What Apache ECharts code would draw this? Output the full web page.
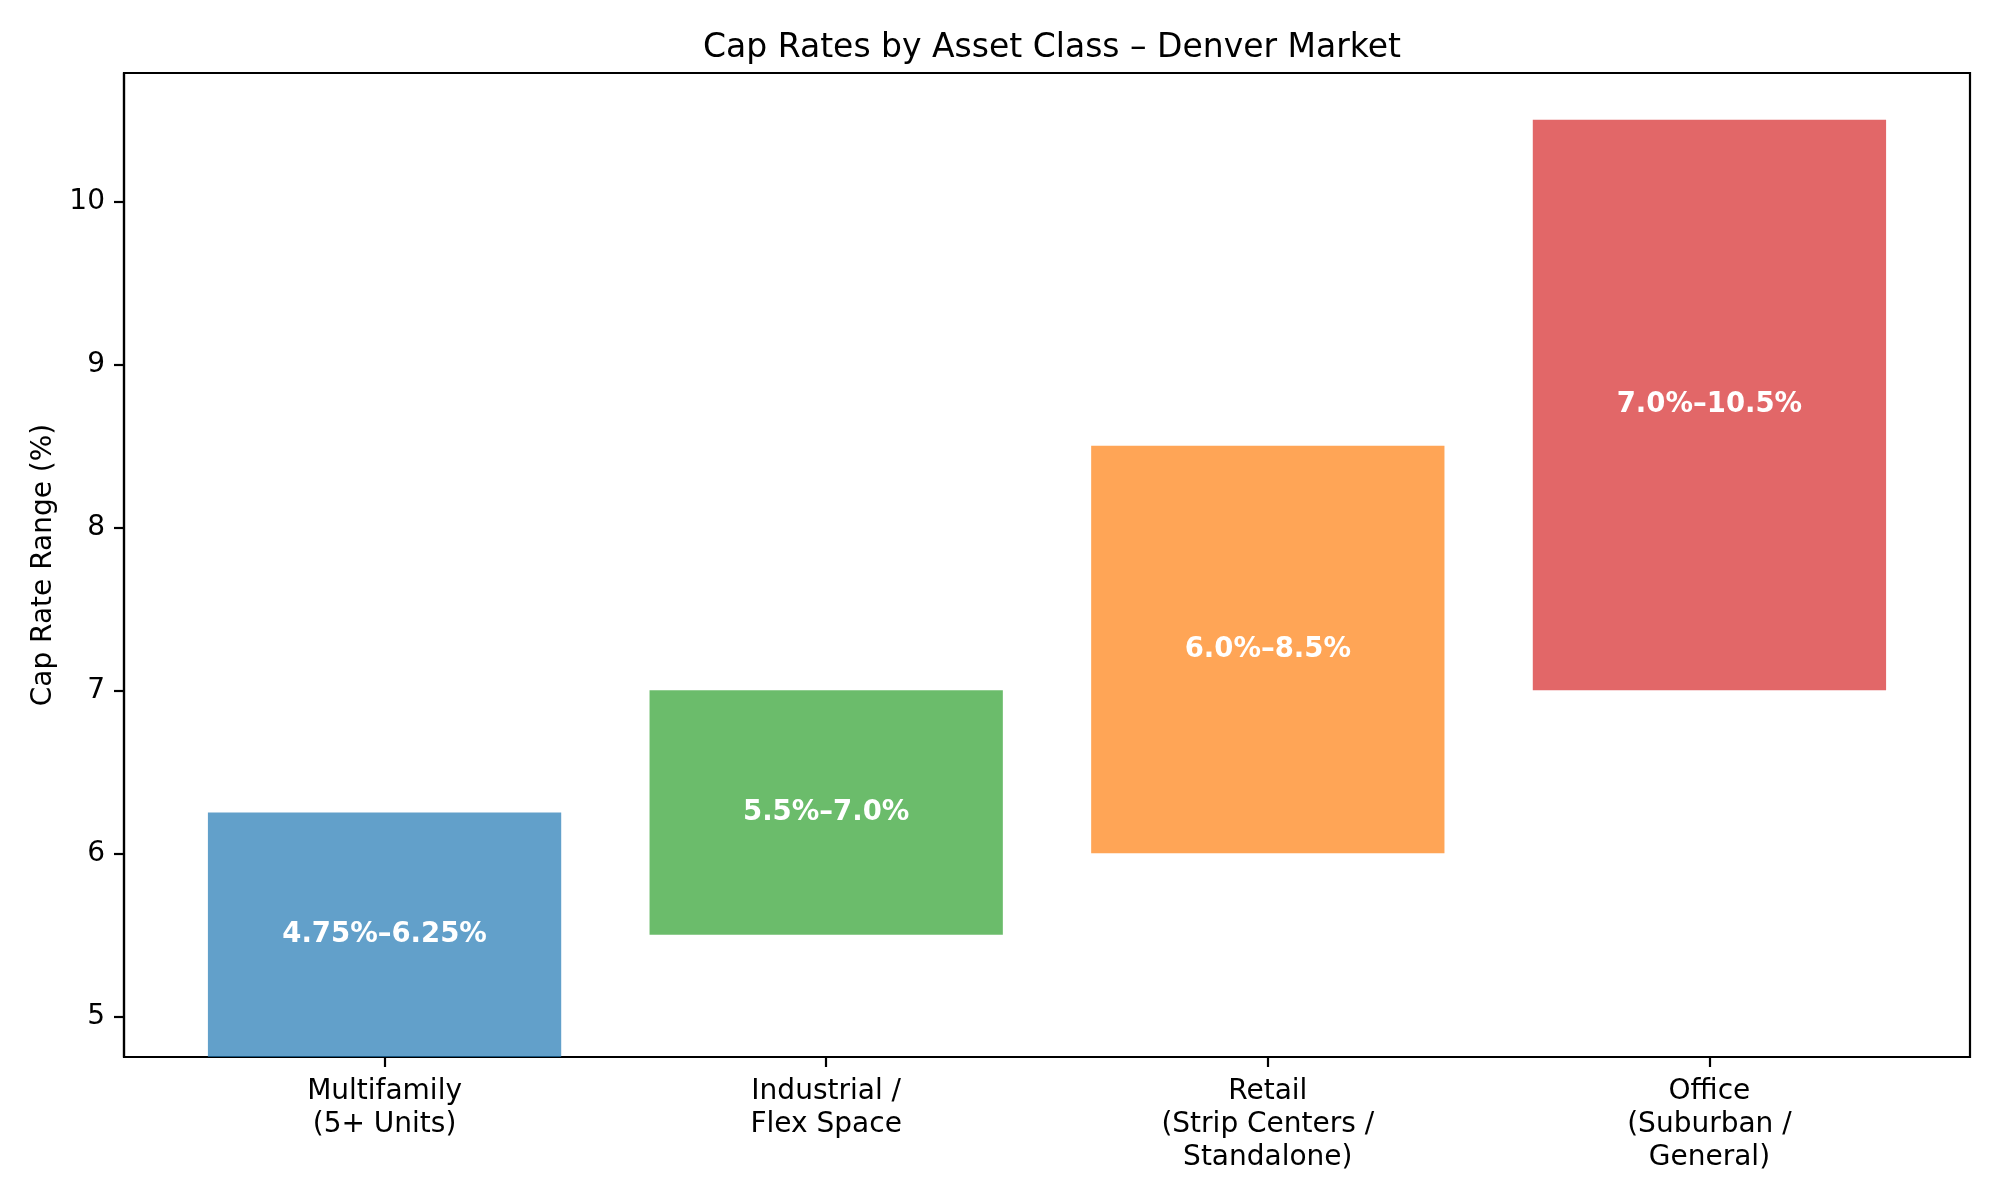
<!DOCTYPE html>
<html>
<head>
<meta charset="utf-8">
<script src="https://cdn.jsdelivr.net/npm/echarts@6/dist/echarts.min.js"></script>
<style>
html,body{margin:0;padding:0;background:#fff;}
#chart{width:2000px;height:1200px;}
</style>
</head>
<body>
<div id="chart"></div>
<script>
const categories = ['Multifamily\n(5+ Units)', 'Industrial /\nFlex Space', 'Retail\n(Strip Centers /\nStandalone)', 'Office\n(Suburban /\nGeneral)'];
const lowRates = [4.75, 5.5, 6.0, 7.0];
const highRates = [6.25, 7.0, 8.5, 10.5];
const rangeLabels = ['4.75%–6.25%', '5.5%–7.0%', '6.0%–8.5%', '7.0%–10.5%'];
const yTicks = [5, 6, 7, 8, 9, 10];
const xTicks = [0, 1, 2, 3];
const barColors = ['#1f77b4', '#2ca02c', '#ff7f0e', '#d62728'];

const FONT = 'DejaVu Sans';
const chart = echarts.init(document.getElementById('chart'), null, {renderer: 'canvas'});

const data = categories.map((c, i) => [i, lowRates[i], highRates[i]]);

const option = {
  backgroundColor: '#ffffff',
  animation: false,
  title: {
    text: 'Cap Rates by Asset Class – Denver Market',
    left: 1047,
    textAlign: 'center',
    top: 27,
    textStyle: {fontFamily: FONT, fontSize: 33, fontWeight: 'normal', color: '#000'}
  },
  grid: {
    left: 124, right: 30, top: 73, bottom: 143,
    show: true, borderColor: '#000', borderWidth: 2.2, backgroundColor: 'transparent'
  },
  xAxis: {
    type: 'value',
    min: -0.59,
    max: 3.59,
    splitLine: {show: false},
    axisLine: {show: true, onZero: false, lineStyle: {color: '#000', width: 2.2}},
    axisTick: {show: true, length: 10, customValues: xTicks, lineStyle: {color: '#000', width: 2.2}},
    axisLabel: {
      customValues: xTicks,
      formatter: v => categories[Math.round(v)],
      fontFamily: FONT, fontSize: 28, color: '#000', lineHeight: 33, margin: 18, align: 'center'
    }
  },
  yAxis: {
    type: 'value',
    min: 4.75,
    max: 10.7875,
    name: 'Cap Rate Range (%)',
    nameLocation: 'middle',
    nameGap: 66,
    nameTextStyle: {fontFamily: FONT, fontSize: 28, color: '#000'},
    splitLine: {show: false},
    axisLine: {show: true, onZero: false, lineStyle: {color: '#000', width: 2.2}},
    axisTick: {show: true, length: 10, customValues: yTicks, lineStyle: {color: '#000', width: 2.2}},
    axisLabel: {customValues: yTicks, fontFamily: FONT, fontSize: 28, color: '#000', margin: 19}
  },
  series: [{
    type: 'custom',
    data: data,
    encode: {x: 0, y: [1, 2]},
    renderItem: function (params, api) {
      const x = api.value(0), lo = api.value(1), hi = api.value(2);
      const p1 = api.coord([x - 0.4, hi]);
      const p2 = api.coord([x + 0.4, lo]);
      const mid = api.coord([x, (lo + hi) / 2]);
      return {
        type: 'group',
        children: [{
          type: 'rect',
          shape: {x: p1[0], y: p1[1], width: p2[0] - p1[0], height: p2[1] - p1[1]},
          style: {fill: barColors[params.dataIndex], opacity: 0.7}
        }, {
          type: 'text',
          x: mid[0], y: mid[1],
          style: {
            text: rangeLabels[params.dataIndex],
            fill: '#fff', fontFamily: FONT, fontSize: 27.5, fontWeight: 'bold',
            align: 'center', verticalAlign: 'middle'
          }
        }]
      };
    }
  }]
};
chart.setOption(option);
</script>
</body>
</html>
